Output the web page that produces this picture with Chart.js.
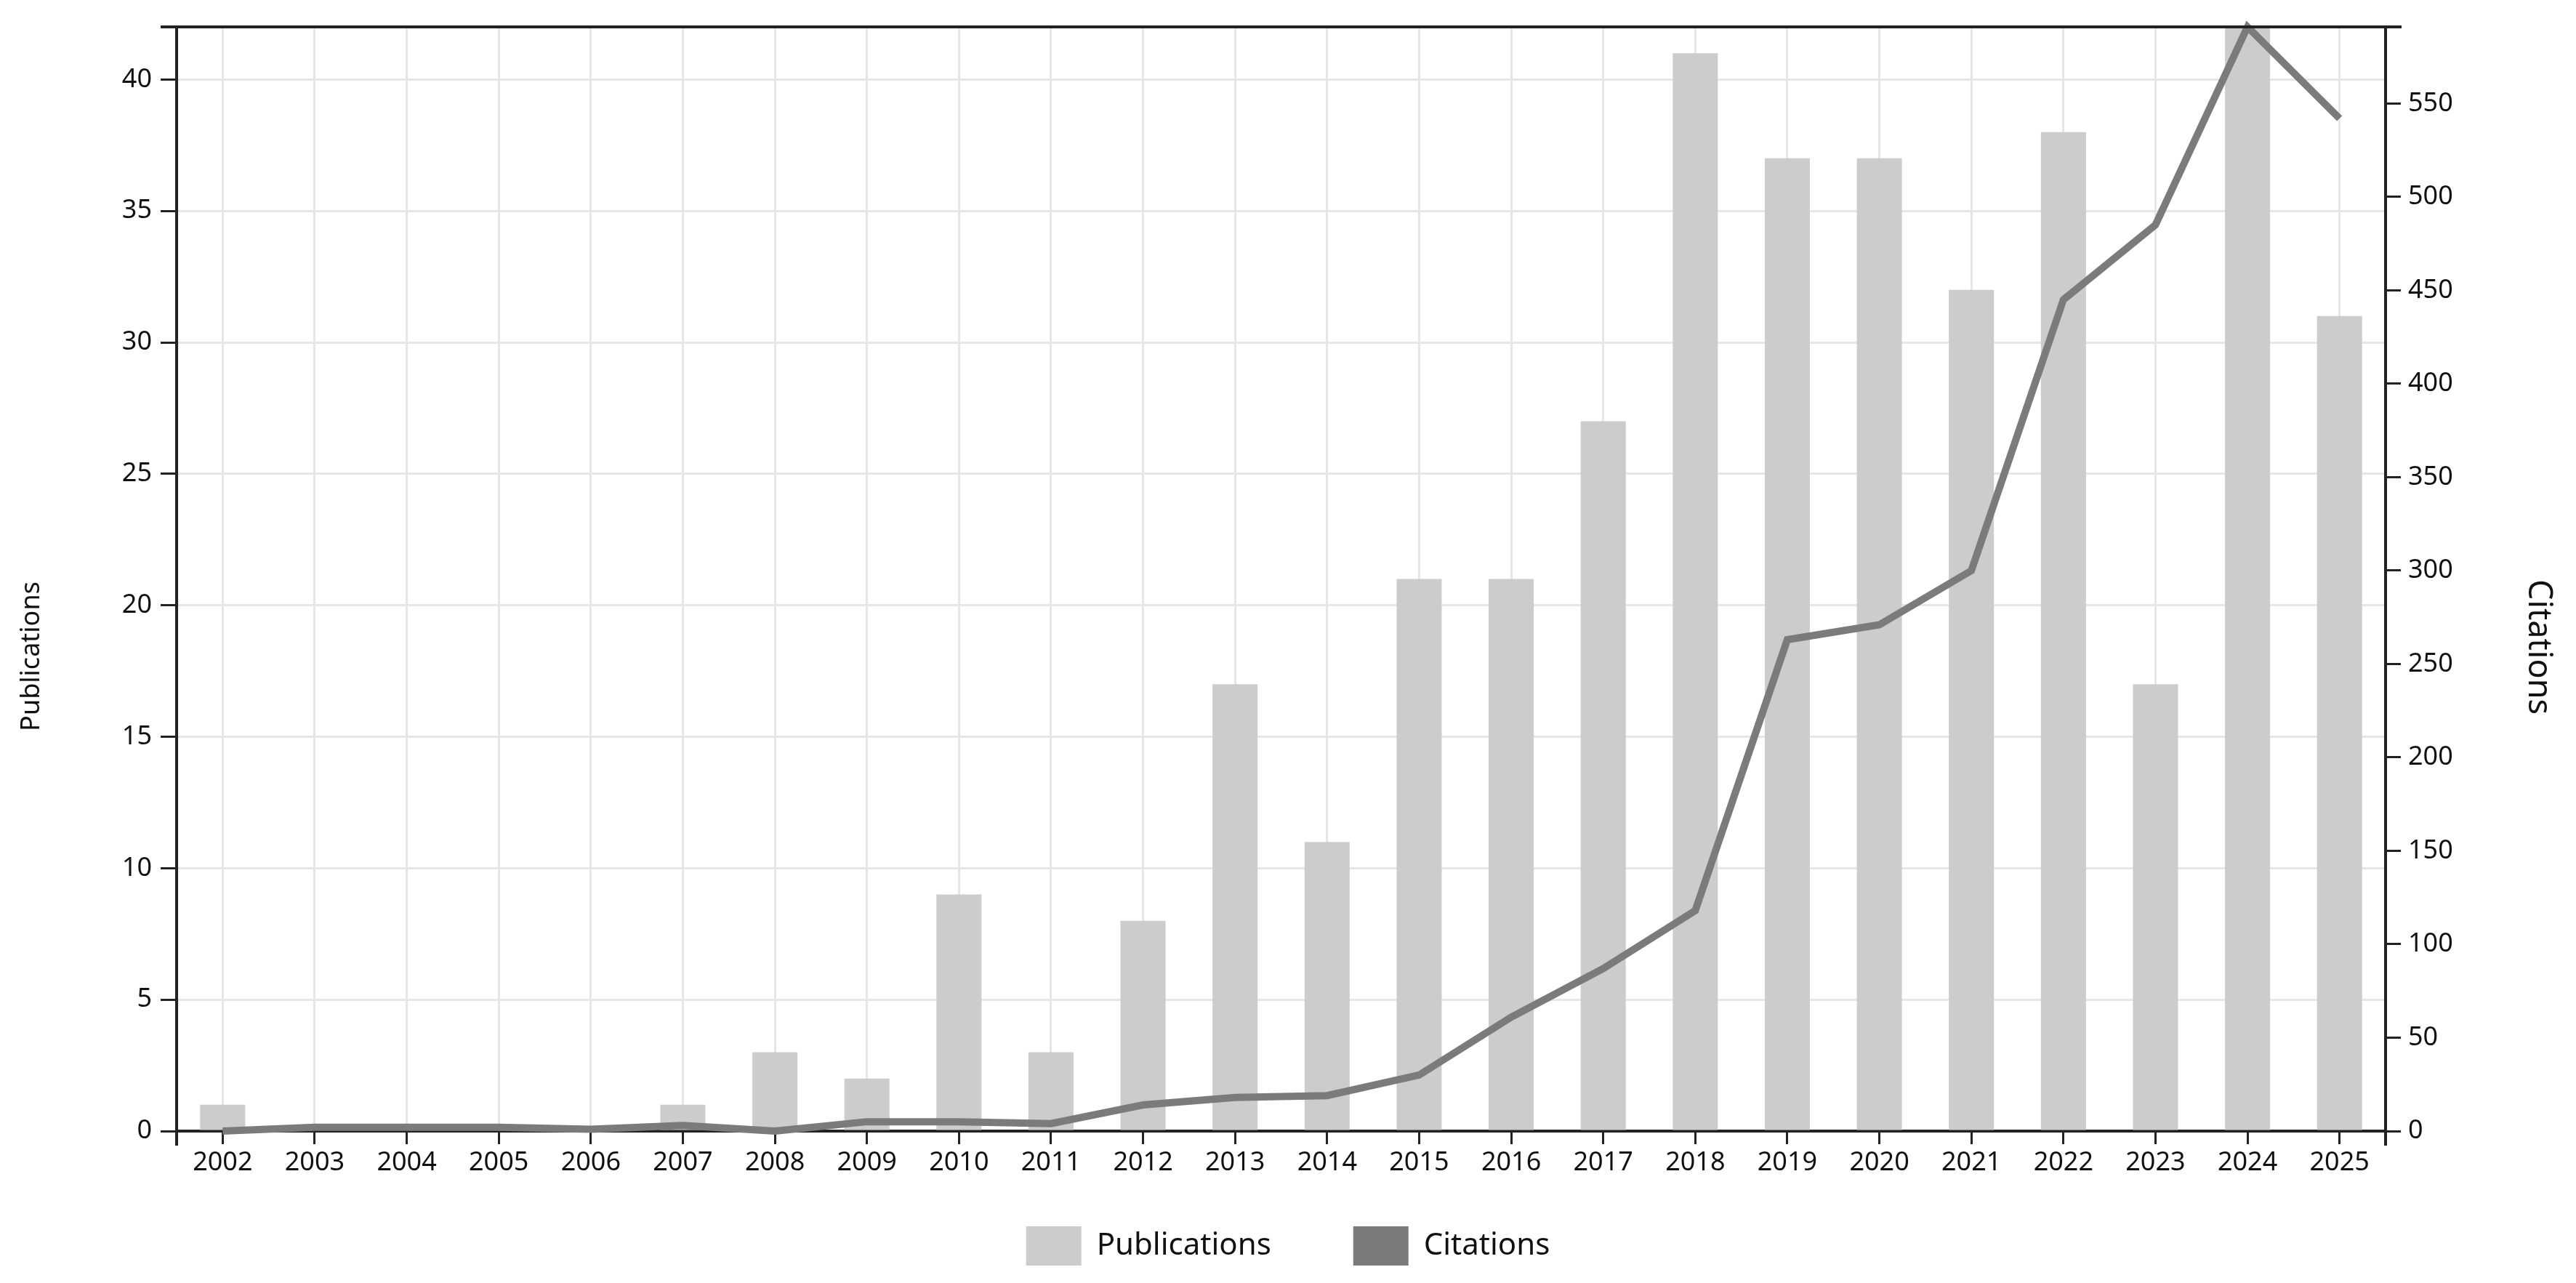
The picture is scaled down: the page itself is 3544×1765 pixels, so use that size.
<!DOCTYPE html>
<html>
<head>
<meta charset="utf-8">
<script src="https://cdn.jsdelivr.net/npm/chart.js@4/dist/chart.umd.min.js"></script>
<style>
  html, body { margin: 0; padding: 0; background: #ffffff; }
  #wrap { width: 3544px; height: 1765px; position: relative; }
</style>
</head>
<body>
<div id="wrap"><canvas id="c"></canvas></div>
<script>
const years = ['2002','2003','2004','2005','2006','2007','2008','2009','2010','2011','2012','2013',
               '2014','2015','2016','2017','2018','2019','2020','2021','2022','2023','2024','2025'];
const publications = [1,0,0,0,0,1,3,2,9,3,8,17,11,21,21,27,41,37,37,32,38,17,42,31];
const citations = [0,2,2,2,1,3,0,5,5,4,14,18,19,30,61,87,118,263,271,300,445,485,591,542];
const pubAxisMax = 42;
const citAxisMax = 591;
const leftTitle = 'Publications';
const rightTitle = 'Citations';

const FONT = "'Noto Sans', sans-serif";
const AXIS = '#222222';
const GRID = '#e6e6e6';

const framePlugin = {
  id: 'frame',
  beforeDraw(chart) {
    // let the x tick labels extend below the (deliberately short) x-axis box
    if (chart.scales.x) chart.scales.x._computeLabelArea = () => undefined;
  },
  afterDraw(chart) {
    const ctx = chart.ctx;
    const a = chart.chartArea;
    ctx.save();
    ctx.strokeStyle = AXIS;
    ctx.lineWidth = 4;
    ctx.beginPath();
    ctx.moveTo(a.left - 22, a.top);
    ctx.lineTo(a.right + 22, a.top);
    ctx.moveTo(a.left, a.bottom);
    ctx.lineTo(a.left, a.bottom + 20);
    ctx.moveTo(a.right, a.bottom);
    ctx.lineTo(a.right, a.bottom + 20);
    ctx.stroke();
    ctx.fillStyle = '#111111';
    ctx.textAlign = 'center';
    ctx.textBaseline = 'middle';
    ctx.font = "36px " + FONT;
    ctx.translate(44, 903);
    ctx.rotate(-Math.PI / 2);
    ctx.fillText(leftTitle, 0, 0);
    ctx.restore();
    ctx.save();
    ctx.fillStyle = '#111111';
    ctx.textAlign = 'center';
    ctx.textBaseline = 'middle';
    ctx.font = "45px " + FONT;
    ctx.translate(3492, 890);
    ctx.rotate(Math.PI / 2);
    ctx.fillText(rightTitle, 0, 0);
    ctx.restore();
  }
};

new Chart(document.getElementById('c'), {
  data: {
    labels: years,
    datasets: [
      {
        type: 'bar',
        label: 'Publications',
        data: publications,
        yAxisID: 'y',
        backgroundColor: '#cccccc',
        borderWidth: 0,
        barPercentage: 0.49,
        categoryPercentage: 1.0,
        order: 2
      },
      {
        type: 'line',
        label: 'Citations',
        data: citations,
        yAxisID: 'y1',
        borderColor: '#7b7b7b',
        backgroundColor: '#7b7b7b',
        borderWidth: 10,
        pointRadius: 0,
        pointHoverRadius: 0,
        tension: 0,
        clip: false,
        order: 1
      }
    ]
  },
  options: {
    responsive: true,
    maintainAspectRatio: false,
    animation: false,
    layout: { padding: { top: 37, left: 0, right: 0, bottom: 14 } },
    plugins: {
      tooltip: { enabled: false },
      legend: {
        position: 'bottom',
        labels: {
          boxWidth: 76,
          boxHeight: 54,
          padding: 113,
          color: '#111111',
          font: { family: FONT, size: 42 },
          sort: (a, b) => a.datasetIndex - b.datasetIndex,
          generateLabels(chart) {
            const items = Chart.defaults.plugins.legend.labels.generateLabels(chart);
            items.forEach(it => { it.lineWidth = 0; it.strokeStyle = 'rgba(0,0,0,0)'; });
            return items;
          }
        }
      }
    },
    scales: {
      x: {
        type: 'category',
        offset: true,
        grid: {
          offset: false,
          color: GRID,
          lineWidth: 3,
          drawTicks: true,
          tickColor: AXIS,
          tickLength: 18,
          tickWidth: 3
        },
        border: { color: AXIS, width: 4 },
        ticks: {
          color: '#111111',
          font: { family: FONT, size: 36 },
          padding: 4,
          maxRotation: 0,
          autoSkip: false
        },
        afterFit(scale) { scale.height = 18; }
      },
      y: {
        type: 'linear',
        position: 'left',
        min: 0,
        max: pubAxisMax,
        grid: {
          color: GRID,
          lineWidth: 3,
          tickColor: AXIS,
          tickLength: 22,
          tickWidth: 3
        },
        border: { color: AXIS, width: 4 },
        ticks: {
          stepSize: 5,
          includeBounds: false,
          color: '#111111',
          font: { family: FONT, size: 36 },
          padding: 12
        },
        afterFit(scale) { scale.width = 243; }
      },
      y1: {
        type: 'linear',
        position: 'right',
        min: 0,
        max: citAxisMax,
        grid: {
          drawOnChartArea: false,
          tickColor: AXIS,
          tickLength: 21,
          tickWidth: 3
        },
        border: { color: AXIS, width: 4 },
        ticks: {
          stepSize: 50,
          includeBounds: false,
          color: '#111111',
          font: { family: FONT, size: 36 },
          padding: 10
        },
        afterFit(scale) { scale.width = 262; }
      }
    }
  },
  plugins: [framePlugin]
});
</script>
</body>
</html>
